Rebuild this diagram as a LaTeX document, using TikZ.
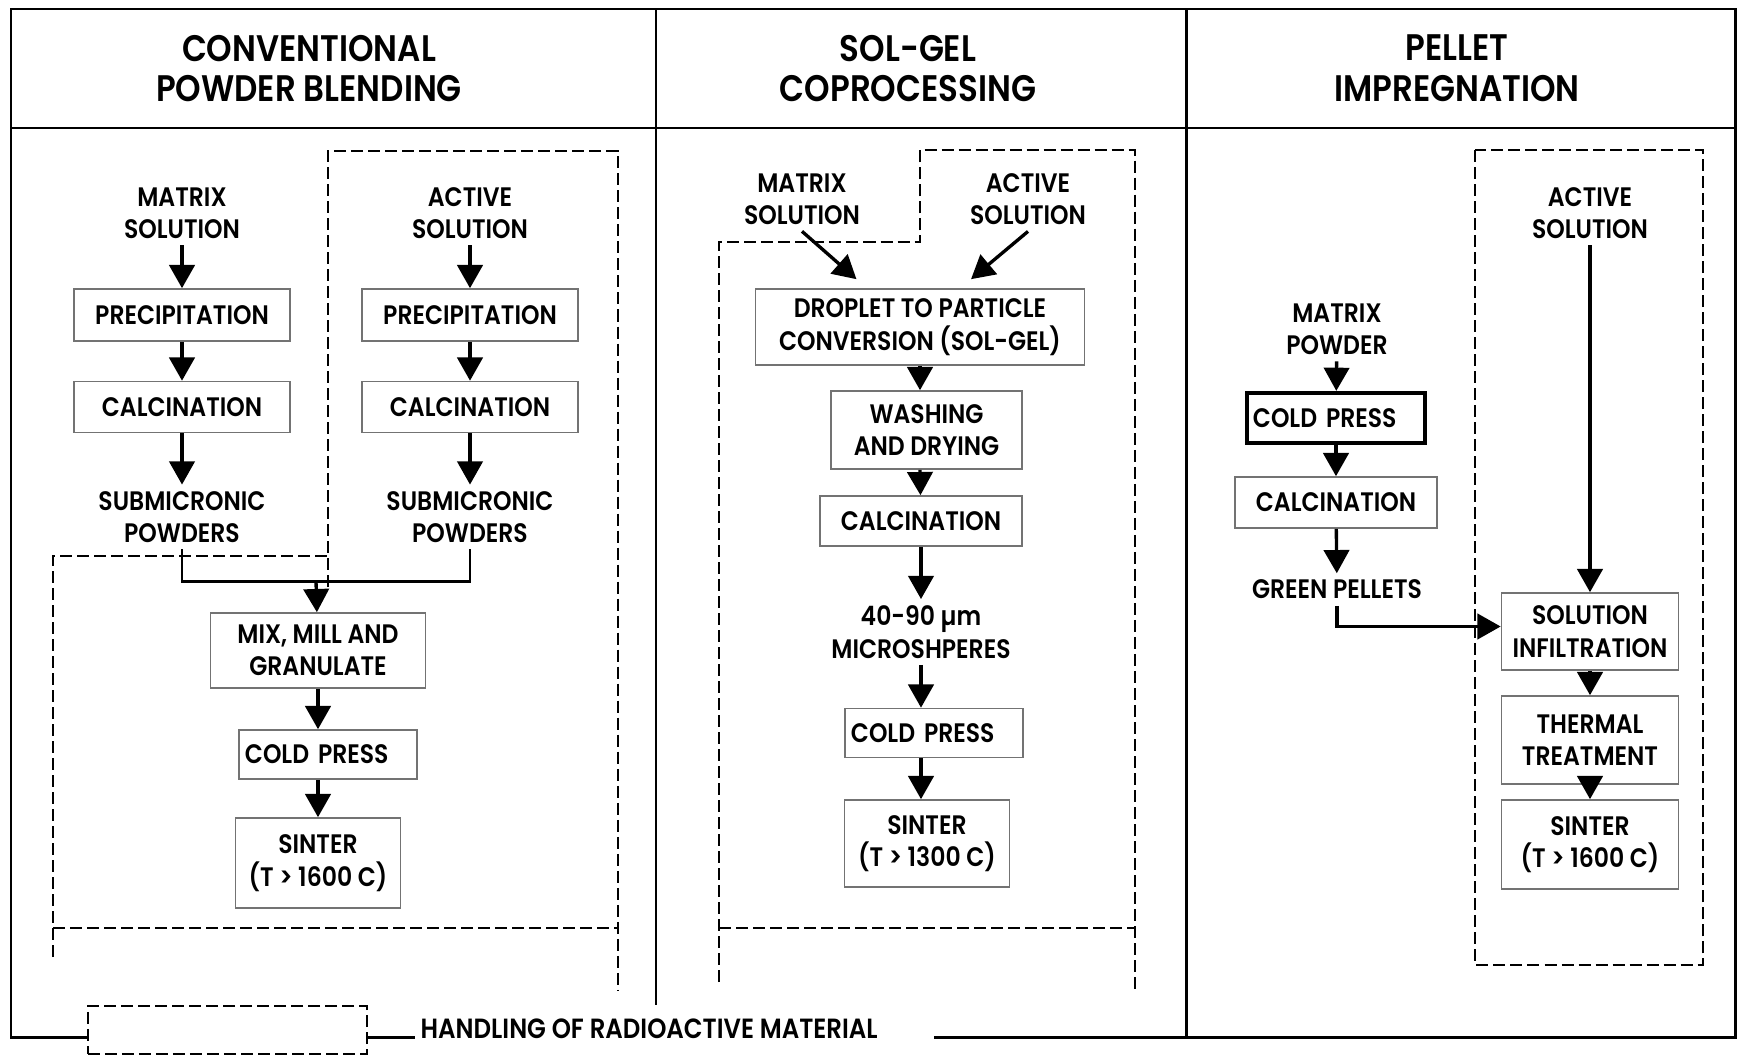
\documentclass[tikz,border=0pt]{standalone}
\usepackage{fontspec}
\setmainfont{Poppins}[FakeStretch=0.88, BoldFont={Poppins SemiBold}]
\usetikzlibrary{arrows.meta,calc}

\begin{document}
\begin{tikzpicture}[x=0.01cm, y=-0.01cm,
        every node/.style = {align=center, inner sep=0pt,
            font=\bfseries\fontsize{7.6}{9.2}\selectfont},
        box/.style = {draw=black!55, line width=0.45pt},
        press/.style = {box, text width=1.66cm, inner xsep=0.06cm,
            align=left, minimum height=0.49cm},
        lbl/.style = {inner sep=0.06cm},
        head/.style = {font=\bfseries\fontsize{10.5}{11.6}\selectfont},
        arr/.style = {-{Triangle[width=7.2pt,length=6.6pt]}, line width=0.95pt},
        outline/.style = {line width=0.85pt},
        zone/.style = {dash pattern=on 0.12cm off 0.05cm, line width=0.7pt}]
    \useasboundingbox (0,0) rectangle (1744,1057);

    % frame and column heads
    \draw[outline] (88,1037) -- (11,1037) -- (11,9) -- (1735,9) -- (1735,1037) -- (934,1037);
    \draw[outline] (367,1037) -- (415,1037);
    \draw[outline] (11,128) -- (1735,128);
    \draw[outline] (656,9) -- (656,1005);
    \draw[outline] (1186,9) -- (1186,1037);
    \node[head] (h1) at (309,68.5) {CONVENTIONAL\\POWDER BLENDING};
    \node[head] (h2) at (908,68.5) {SOL-GEL\\COPROCESSING};
    \node[head] (h3) at (1457,68.5) {PELLET\\IMPREGNATION};

    % radioactive zones
    \draw[zone] (53,957) -- (53,556) -- (328,556);
    \draw[zone] (328,587) -- (328,151) -- (618,151) -- (618,991);
    \draw[zone] (53,928) -- (618,928);
    \draw[zone] (719,982) -- (719,242) -- (920,242) -- (920,150) -- (1135,150) -- (1135,991);
    \draw[zone] (719,928) -- (1135,928);
    \draw[zone] (1475,150) rectangle (1703,965);

    % conventional powder blending
    \node[lbl] (msol1) at (182,213) {MATRIX\\SOLUTION};
    \node[lbl] (asol1) at (470,213) {ACTIVE\\SOLUTION};
    \node[box, minimum width=2.16cm, minimum height=0.52cm] (prec1) at (182,315) {PRECIPITATION};
    \node[box, minimum width=2.16cm, minimum height=0.52cm] (prec2) at (470,315) {PRECIPITATION};
    \node[box, minimum width=2.16cm, minimum height=0.51cm] (calc1) at (182,407) {CALCINATION};
    \node[box, minimum width=2.16cm, minimum height=0.51cm] (calc2) at (470,407) {CALCINATION};
    \node[lbl] (sub1) at (182,517) {SUBMICRONIC\\POWDERS};
    \node[lbl] (sub2) at (470,517) {SUBMICRONIC\\POWDERS};
    \coordinate (join) at (316,581);
    \node[box, minimum width=2.15cm, minimum height=0.75cm] (mix) at (318,650.5) {MIX, MILL AND\\GRANULATE};
    \node[press] (cold1) at (328,754.5) {COLD PRESS};
    \node[box, minimum width=1.65cm, minimum height=0.9cm] (sint1) at (318,863) {SINTER\\(T > 1600 C)};

    \draw[arr] (msol1) -- (prec1);
    \draw[arr] (prec1) -- (calc1);
    \draw[arr] (calc1) -- (sub1);
    \draw[arr] (asol1) -- (prec2);
    \draw[arr] (prec2) -- (calc2);
    \draw[arr] (calc2) -- (sub2);
    \draw[outline] (sub1) |- (join) -| (sub2);
    \draw[arr] (join) -- (mix);
    \draw[arr] (mix) -- (mix |- cold1.north);
    \draw[arr] (mix |- cold1.south) -- (sint1);

    % sol-gel coprocessing
    \node[lbl] (msol2) at (802,199) {MATRIX\\SOLUTION};
    \node[lbl] (asol2) at (1028,199) {ACTIVE\\SOLUTION};
    \node[box, minimum width=3.29cm, minimum height=0.76cm] (drop) at (920,327) {DROPLET TO PARTICLE\\CONVERSION (SOL-GEL)};
    \node[box, minimum width=1.91cm, minimum height=0.78cm] (wash) at (926.5,430) {WASHING\\AND DRYING};
    \node[box, minimum width=2.02cm, minimum height=0.5cm] (calc3) at (921,521) {CALCINATION};
    \node[lbl] (micro) at (921,632) {40-90 µm\\MICROSHPERES};
    \node[press] (cold2) at (934,733) {COLD PRESS};
    \node[box, minimum width=1.65cm, minimum height=0.87cm] (sint2) at (927,843.5) {SINTER\\(T > 1300 C)};

    \draw[arr] (msol2.south) -- ([xshift=-0.635cm, yshift=0.09cm]drop.north);
    \draw[arr] (asol2.south) -- ([xshift=0.51cm, yshift=0.09cm]drop.north);
    \draw[arr] (drop) -- (drop |- wash.north);
    \draw[arr] (drop |- wash.south) -- (calc3);
    \draw[arr] (calc3) -- (micro);
    \draw[arr] (micro) -- (micro |- cold2.north);
    \draw[arr] (micro |- cold2.south) -- (micro |- sint2.north);

    % pellet impregnation
    \node[lbl] (asol3) at (1590,213) {ACTIVE\\SOLUTION};
    \node[lbl] (mpow) at (1337,329) {MATRIX\\POWDER};
    \node[press, draw=black, line width=1.2pt, minimum height=0.5cm] (cold3) at (1336,418) {COLD PRESS};
    \node[box, minimum width=2.02cm, minimum height=0.51cm] (calc4) at (1336,502.5) {CALCINATION};
    \node[lbl] (green) at (1337,589.5) {GREEN PELLETS};
    \node[box, minimum width=1.77cm, minimum height=0.77cm] (infil) at (1590,631.5) {SOLUTION\\INFILTRATION};
    \node[box, minimum width=1.77cm, minimum height=0.88cm] (therm) at (1590,740) {THERMAL\\TREATMENT};
    \node[box, minimum width=1.77cm, minimum height=0.89cm] (sint3) at (1590,844.5) {SINTER\\(T > 1600 C)};

    \draw[arr] (asol3) -- (infil);
    \draw[arr] (mpow) -- (cold3);
    \draw[arr] (cold3) -- (calc4);
    \draw[arr] (calc4) -- (green);
    \draw[arr] (green) |- ([yshift=0.05cm]infil.west);
    \draw[arr] (infil) -- (therm);
    \draw[arr] (therm) -- (sint3);

    % legend
    \node[draw, zone, minimum width=2.79cm, minimum height=0.48cm] (legbox) at (227.5,1030) {};
    \node[anchor=west, font=\bfseries\fontsize{7.9}{9}\selectfont] (legtxt) at (420,1029) {HANDLING OF RADIOACTIVE MATERIAL};
\end{tikzpicture}
\end{document}
